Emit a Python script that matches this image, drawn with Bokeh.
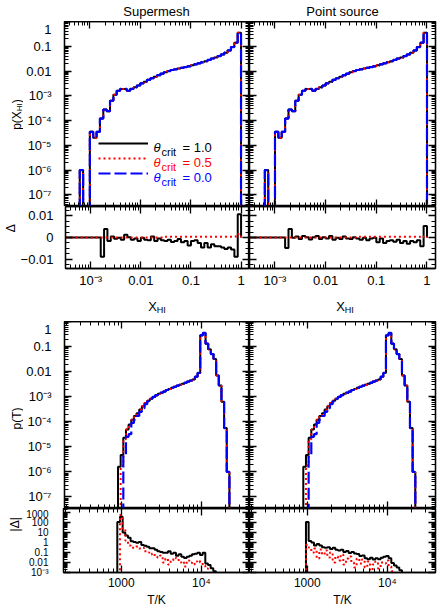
import numpy as np
from bokeh.plotting import figure
from bokeh.models import (Range1d, FixedTicker, CustomJSTickFormatter, LogAxis, LinearAxis,
                          Label, Legend, LegendItem)
from bokeh.core.properties import value
from bokeh.layouts import column, row
from bokeh.embed import file_html
from bokeh.resources import INLINE

FONT = "Liberation Sans"

# ---------------- data ----------------
# X_HI histogram: 15 bins per decade, bin edges log10(X) = -3.6 ... 0
xhi_edges = 10.0 ** (-3.6 + np.arange(55) / 15.0)
p_xhi = [0, 0, 0, 0, 0, 0, 1.0e-6, 0, 0, 3.5e-5, 2.0e-5, 3.5e-5, 1.2e-4, 2.8e-4, 2.4e-4,
         6.3e-4, 1.1e-3, 1.6e-3, 1.9e-3, 1.9e-3, 1.6e-3, 1.9e-3, 2.2e-3, 2.6e-3, 3.2e-3,
         3.7e-3, 4.4e-3, 5.1e-3, 5.9e-3, 6.8e-3, 7.8e-3, 8.9e-3, 1.0e-2, 1.1e-2, 1.17e-2,
         1.26e-2, 1.35e-2, 1.45e-2, 1.55e-2, 1.7e-2, 1.86e-2, 2.04e-2, 2.24e-2, 2.5e-2,
         2.8e-2, 3.2e-2, 3.5e-2, 4.0e-2, 4.7e-2, 5.5e-2, 6.8e-2, 9.3e-2, 0.14, 0.35]
p_xhi_05 = p_xhi
p_xhi_00 = p_xhi

dxhi_sm_10 = [0] * 12 + [-0.0088, 0.0039, -0.0016, 0.0004, -0.0006, -0.0001, -0.0010, 0.0013,
                         0.0001, -0.0010, -0.0004, -0.0016, -0.0001, -0.0010, -0.0013, 0.0004,
                         -0.0016, -0.0004, -0.0013, -0.0016, -0.0010, -0.0021, -0.0016, -0.0007,
                         -0.0022, -0.0016, -0.0036, -0.0016, -0.0013, -0.0025, -0.0046, -0.0025,
                         -0.0046, -0.0031, -0.0040, -0.0040, -0.0046, -0.0052, -0.0046, -0.0055,
                         -0.0088, 0.0106]
dxhi_sm_05 = [0] * 31 + [0.0003] * 21 + [0.0004, 0.0015]
dxhi_ps_10 = [0] * 12 + [-0.0048, 0.0039, -0.0001, 0.0004, -0.0007, 0.0007, 0.0001, -0.0009,
                         0.0001, 0.0007, -0.0007, 0.0001, -0.0004, 0.0007, -0.0010, -0.0001,
                         -0.0007, 0.0004, -0.0004, -0.0007, 0.0001, -0.0004, -0.0010, -0.0001,
                         -0.0013, -0.0004, -0.0001, -0.0022, -0.0004, -0.0025, -0.0016, -0.0013,
                         -0.0019, -0.0010, -0.0025, -0.0016, -0.0028, -0.0016, -0.0022, -0.0013,
                         -0.0040, 0.0052]
dxhi_ps_05 = [0] * 33 + [0.0003] * 19 + [0.0, 0.0005]

# Temperature histogram: 30 bins per decade, bin edges log10(T) = 2.95 ... 4.35
t_edges = 10.0 ** (2.95 + np.arange(43) / 30.0)
p_t_10 = [1.6e-6, 4.7e-6, 2.3e-5, 4.9e-5, 7.8e-5, 1.2e-4, 1.7e-4, 2.2e-4, 3.1e-4, 4.2e-4,
          5.6e-4, 6.9e-4, 8.3e-4, 9.8e-4, 1.15e-3, 1.3e-3, 1.45e-3, 1.6e-3, 1.85e-3, 2.05e-3,
          2.25e-3, 2.5e-3, 2.75e-3, 3.0e-3, 3.3e-3, 3.6e-3, 4.0e-3, 4.4e-3, 4.9e-3, 6.3e-3,
          8.9e-3, 0.28, 0.35, 0.13, 0.078, 0.05, 0.032, 7.0e-3, 2.8e-3, 6.3e-4, 5.6e-5, 1.0e-6]
p_t_05 = [0, 1.8e-6, 2.0e-5, 4.9e-5, 7.8e-5, 1.2e-4, 1.7e-4, 2.2e-4, 3.1e-4, 4.2e-4,
          5.6e-4, 6.9e-4, 8.3e-4, 9.8e-4, 1.15e-3, 1.3e-3, 1.45e-3, 1.6e-3, 1.85e-3, 2.05e-3,
          2.25e-3, 2.5e-3, 2.75e-3, 3.0e-3, 3.3e-3, 3.6e-3, 4.0e-3, 4.4e-3, 4.9e-3, 6.3e-3,
          8.9e-3, 0.28, 0.35, 0.13, 0.078, 0.05, 0.032, 7.0e-3, 2.8e-3, 6.3e-4, 5.6e-5, 1.0e-6]
p_t_00 = [0, 0, 4.7e-6, 2.5e-5, 3.2e-5, 9.0e-5, 1.2e-4, 1.7e-4, 2.5e-4, 3.5e-4,
          5.0e-4, 6.5e-4, 8.3e-4, 9.8e-4, 1.15e-3, 1.3e-3, 1.45e-3, 1.6e-3, 1.85e-3, 2.05e-3,
          2.25e-3, 2.5e-3, 2.75e-3, 3.0e-3, 3.3e-3, 3.6e-3, 4.0e-3, 4.4e-3, 4.9e-3, 6.3e-3,
          8.9e-3, 0.28, 0.35, 0.13, 0.078, 0.05, 0.032, 7.0e-3, 2.8e-3, 6.3e-4, 5.6e-5, 1.0e-6]

dt_sm_10 = [112, 370, 10, 5.0, 3.0, 1.3, 1.1, 0.95, 1.1, 0.55, 0.48, 0.38, 0.27, 0.27, 0.19,
            0.13, 0.115, 0.093, 0.093, 0.13, 0.076, 0.093, 0.046, 0.066, 0.037, 0.028, 0.037,
            0.046, 0.066, 0.076, 0.093, 0.056, 0.093, 0.0079, 0.0055, 0.0027, 0.0013,
            0, 0, 0, 0, 0]
dt_sm_05 = [0, 560, 20, 1.6, 0.5, 0.3, 0.3, 0.4, 0.25, 0.3, 0.13, 0.1, 0.063, 0.08, 0.04,
            0.032, 0.05, 0.01, 0.025, 0.0063, 0.016, 0.032, 0.025, 0.01, 0.0126, 0.004, 0.016,
            0.01, 0.0063, 0.0126, 0.016, 0.01, 0.005, 0.0025, 0, 0, 0, 0, 0, 0, 0, 0]
dt_ps_10 = [0, 110, 1.45, 1.0, 0.5, 0.7, 0.5, 0.34, 0.3, 0.34, 0.23, 0.3, 0.19, 0.16, 0.19,
            0.115, 0.14, 0.09, 0.115, 0.08, 0.07, 0.045, 0.05, 0.027, 0.021, 0.03, 0.02, 0.027,
            0.021, 0.03, 0.038, 0.045, 0.027, 0.0089, 0.005, 0.0032, 0.0017, 0, 0, 0, 0, 0]
dt_ps_05 = [0, 0.6, 0.32, 0.1, 0.25, 0.025, 0.2, 0.063, 0.16, 0.032, 0.1, 0.01, 0.04, 0.016,
            0.063, 0.0063, 0.025, 0.04, 0.01, 0.0032, 0.025, 0.008, 0.02, 0.0032, 0.0126,
            0.0016, 0.0063, 0.0126, 0.0025, 0.01, 0.008, 0.016, 0.004, 0.0013, 0, 0, 0, 0, 0,
            0, 0, 0]

titles = ["Supermesh", "Point source"]
legend_values = ["1.0", "0.5", "0.0"]
t_label = "T/K"

# ---------------- styling helpers ----------------
COL = {"1.0": "black", "0.5": "#ff0000", "0.0": "#0000ff"}
LW = 2.0

LOGFMT = CustomJSTickFormatter(code=r"""
const e = Math.round(Math.log10(tick));
if (e >= -2 && e <= 3) { return e >= 0 ? String(Math.round(tick)) : tick.toFixed(-e); }
const m = {"-":"\u207b","0":"\u2070","1":"\u00b9","2":"\u00b2","3":"\u00b3","4":"\u2074","5":"\u2075","6":"\u2076","7":"\u2077","8":"\u2078","9":"\u2079"};
let s = ""; for (const c of String(e)) { s += m[c]; }
return "10" + s;
""")
DFMT = CustomJSTickFormatter(code=r"""
if (Math.abs(tick) < 1e-12) { return "0"; }
return (tick < 0 ? "\u2212" : "") + Math.abs(tick).toFixed(2);
""")
NOFMT = CustomJSTickFormatter(code="return '';")


def log_ticker(lo, hi):
    major = [10.0 ** e for e in range(lo, hi + 1)]
    minor = [m * 10.0 ** e for e in range(lo - 1, hi + 1) for m in range(2, 10)]
    return FixedTicker(ticks=major, minor_ticks=minor)


def lin_ticker():
    return FixedTicker(ticks=[-0.01, 0.0, 0.01],
                       minor_ticks=[round(-0.0125 + 0.0025 * i, 5) for i in range(11)])


def style_axis(ax, ticker, fmt, size):
    ax.ticker = ticker
    ax.axis_line_width = 1.3
    ax.major_tick_line_width = 1.3
    ax.minor_tick_line_width = 1.0
    ax.major_tick_in = 7
    ax.major_tick_out = 0
    ax.minor_tick_in = 4
    ax.minor_tick_out = 0
    ax.axis_label = None
    if fmt is None:
        ax.formatter = NOFMT
        ax.major_label_text_font_size = "0px"
        ax.major_label_standoff = 0
    else:
        ax.formatter = fmt
        ax.major_label_text_font = FONT
        ax.major_label_text_font_size = size
        ax.major_label_text_color = "black"


def panel(xr, yr, xlog, ylog, w, h, mb, xt, yt, xfmt, yfmt, xsize="13px", ysize="13px",
          xstand=4, ystand=13):
    """Fixed overall size; the frame is what remains inside the borders."""
    p = figure(x_axis_type="log" if xlog else "linear",
               y_axis_type="log" if ylog else "linear",
               x_range=Range1d(*xr), y_range=Range1d(*yr),
               width=w, height=h,
               min_border_left=mb[0], min_border_right=mb[1],
               min_border_top=mb[2], min_border_bottom=mb[3],
               toolbar_location=None, output_backend="svg", title=None)
    p.grid.visible = False
    p.outline_line_color = "black"
    p.outline_line_width = 1.3
    p.background_fill_color = "white"
    p.border_fill_color = "white"
    p.add_layout((LogAxis if xlog else LinearAxis)(), "above")
    p.add_layout((LogAxis if ylog else LinearAxis)(), "right")
    style_axis(p.below[0], xt, xfmt, xsize)
    style_axis(p.above[0], xt, None, xsize)
    style_axis(p.left[0], yt, yfmt, ysize)
    style_axis(p.right[0], yt, None, ysize)
    if xfmt is not None:
        p.below[0].major_label_standoff = xstand
    if yfmt is not None:
        p.left[0].major_label_standoff = ystand
    return p


def strip(x0, w, y0, h):
    """A bare figure whose data coordinates are page pixels (x, -y)."""
    f = figure(width=w, height=h, x_range=Range1d(x0, x0 + w), y_range=Range1d(-(y0 + h), -y0),
               min_border=0, x_axis_location=None, y_axis_location=None,
               toolbar_location=None, output_backend="svg", title=None)
    f.grid.visible = False
    f.outline_line_color = None
    f.background_fill_color = "white"
    f.border_fill_color = "white"
    return f


def gtext(f, x, y, s, size, align="left", angle=0.0, color="black"):
    f.text(x=[x], y=[-y], text=[s], angle=angle, text_font=value(FONT),
           text_font_size=value(f"{size}px"), text_align=align,
           text_baseline="alphabetic", text_color=color)


def stepline(p, edges, vals, floor, color, dash, width=LW):
    v = [val if val != 0 else floor for val in vals]
    x = [edges[0]] + list(edges)
    y = [floor] + v + [floor]
    return p.step(x=x, y=y, mode="after", line_color=color, line_width=width,
                  line_dash=dash)


def lab(p, x, y, s, size, color="black", style="normal"):
    p.add_layout(Label(x=x, y=y, x_units="screen", y_units="screen", text=s,
                       text_font=FONT, text_font_size=f"{size}px", text_color=color,
                       text_align="left", text_baseline="alphabetic",
                       text_font_style=style))


EM = {"p": .556, "(": .333, ")": .333, "X": .667, "H": .722, "I": .278, "T": .611,
      "|": .26, "\u0394": .668}


def width_of(s, size):
    return sum(EM.get(c, .556) for c in s) * size


def vlabel(f, bx, cy, parts):
    """Rotated (reading upward) label; parts = (text, size, shift)."""
    total = sum(width_of(t, s) for t, s, _ in parts)
    y = cy + total / 2
    for t, s, sh in parts:
        gtext(f, bx + sh, y, t, s, angle=np.pi / 2)
        y -= width_of(t, s)


# ---------------- geometry (page pixels) ----------------
FW = 186
XR = (10 ** -3.503, 10 ** 0.168)
TR = (10 ** 2.2775, 10 ** 4.6025)
YR_TOP = (10 ** -7.47, 1.0)
YR_BOT = (10 ** -7.46, 1.0)
DR = (-0.0141, 0.0141)
ADR = (1e-3, 10 ** 3.4)

xt_x = log_ticker(-4, 0)
xt_t = log_ticker(2, 4)
yt_main = log_ticker(-8, 0)
yt_ad = log_ticker(-3, 3)
yt_d = lin_ticker()

d_x = [(dxhi_sm_10, dxhi_sm_05), (dxhi_ps_10, dxhi_ps_05)]
d_t = [(dt_sm_10, dt_sm_05), (dt_ps_10, dt_ps_05)]

# vertical bands: title 0-21, main 21-206, delta 206-268 (+22), xlabel 290-321,
# main 321-508, |delta| 508-577 (+32 with the T/K axis label)
st_title = strip(0, 437, 0, 21)
gtext(st_title, 156, 10.5, titles[0], 13, align="center")
gtext(st_title, 342, 10.5, titles[1], 13, align="center")

# left label strips
sl1 = strip(0, 23, 21, 185)
vlabel(sl1, 16, 114, [("p(X", 12, 0), ("HI", 8, 3), (")", 12, 0)])
sl2 = strip(0, 17, 206, 84)
vlabel(sl2, 10.5, 237, [("\u0394", 12, 0)])
sl3 = strip(0, 23, 321, 187)
vlabel(sl3, 16, 418, [("p(T)", 12, 0)])
sl4 = strip(0, 23, 508, 101)
vlabel(sl4, 14, 537, [("|\u0394|", 12, 0)])

# x label strip
st_x = strip(0, 437, 290, 31)
for cx in (156.5, 344.5):
    xw = width_of("X", 13) + width_of("HI", 9)
    gtext(st_x, cx - xw / 2, 305.5, "X", 13)
    gtext(st_x, cx - xw / 2 + width_of("X", 13), 309, "HI", 9)

rows = [[sl1], [sl2], [sl3], [sl4]]
for col in range(2):
    left = col == 0
    yf = LOGFMT if left else None
    mbr = 0 if left else 2
    wm = 40 + FW if left else FW + 2
    wd = 46 + FW if left else FW + 2

    # top main
    a = panel(XR, YR_TOP, True, True, wm, 185, (40 if left else 0, mbr, 0, 0),
              xt_x, yt_main, None, yf)
    r1 = stepline(a, xhi_edges, p_xhi, 1e-12, COL["1.0"], "solid")
    r2 = stepline(a, xhi_edges, p_xhi_05, 1e-12, COL["0.5"], "2 3")
    r3 = stepline(a, xhi_edges, p_xhi_00, 1e-12, COL["0.0"], "12 4", width=2.2)
    if left:
        leg = Legend(items=[LegendItem(label=" ", renderers=[r1]),
                            LegendItem(label=" ", renderers=[r2]),
                            LegendItem(label=" ", renderers=[r3])],
                     location=(34, 26), orientation="vertical", glyph_width=50,
                     glyph_height=14, label_width=0, label_height=14, label_standoff=0,
                     padding=0, margin=0, spacing=1, background_fill_alpha=0,
                     border_line_alpha=0, label_text_font_size="1px")
        a.add_layout(leg)
        for i, v in enumerate(legend_values):
            yc = 63 - 15 * i
            c = COL[v]
            lab(a, 89, yc - 4, "\u03b8", 13, color=c, style="italic")
            lab(a, 97, yc - 8, "crit", 11, color=c)
            lab(a, 118, yc - 4, "= " + v, 13, color=c)

    # top delta
    b = panel(XR, DR, True, False, wd, 84, (46 if left else 0, mbr, 0, 22), xt_x, yt_d,
              LOGFMT, DFMT if left else None, ystand=12)
    stepline(b, xhi_edges, d_x[col][0], 0.0, COL["1.0"], "solid")
    stepline(b, xhi_edges, d_x[col][1], 0.0, COL["0.5"], "2 3")

    # bottom main
    c_ = panel(TR, YR_BOT, True, True, wm, 187, (40 if left else 0, mbr, 0, 0),
               xt_t, yt_main, None, yf)
    stepline(c_, t_edges, p_t_10, 1e-12, COL["1.0"], "solid")
    stepline(c_, t_edges, p_t_05, 1e-12, COL["0.5"], "2 3")
    stepline(c_, t_edges, p_t_00, 1e-12, COL["0.0"], "12 4", width=2.2)

    # bottom |delta| (with the T/K axis title below the tick labels)
    d = panel(TR, ADR, True, True, wm, 101, (40 if left else 0, mbr, 0, 32), xt_t, yt_ad,
              LOGFMT, LOGFMT if left else None, xsize="12px", ysize="10px", xstand=3,
              ystand=15)
    ax = d.below[0]
    ax.axis_label = t_label
    ax.axis_label_text_font = FONT
    ax.axis_label_text_font_size = "12px"
    ax.axis_label_text_font_style = "normal"
    ax.axis_label_text_color = "black"
    ax.axis_label_standoff = 0
    stepline(d, t_edges, d_t[col][0], 1e-9, COL["1.0"], "solid")
    stepline(d, t_edges, d_t[col][1], 1e-9, COL["0.5"], "2 3")

    rows[0].append(a)
    rows[1].append(b)
    rows[2].append(c_)
    rows[3].append(d)

layout = column(st_title, row(*rows[0]), row(*rows[1]), st_x, row(*rows[2]), row(*rows[3]))
open("out.html", "w").write(file_html(layout, INLINE, "chart"))
